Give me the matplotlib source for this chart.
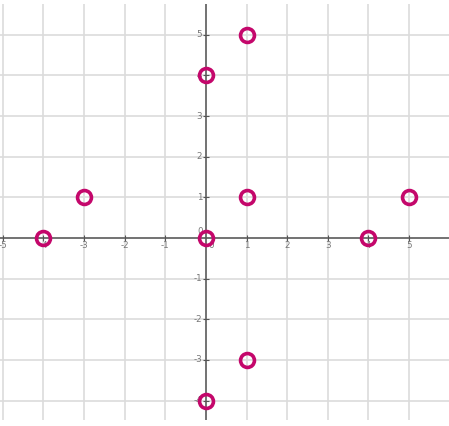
import matplotlib
matplotlib.use("Agg")
import matplotlib.pyplot as plt

# points on the plane
pts_x = [-4, -3, 0, 0, 1, 1, 1, 0, 4, 5]
pts_y = [0, 1, 4, 0, 5, 1, -3, -4, 0, 1]

x_ticks = [-5, -4, -3, -2, -1, 1, 2, 3, 4, 5]
y_ticks = [-4, -3, -2, -1, 1, 2, 3, 4, 5]

GRID = "#dcdcdc"
AXIS = "#555555"
LABEL = "#777777"
MARK = "#c4076b"

W, H = 449, 426
fig = plt.figure(figsize=(W / 100, H / 100), dpi=100)
ax = fig.add_axes([0, 6 / H, 1, 416 / H])
ax.set_xlim(-5.07, 5.985)
ax.set_ylim(-4.48, 5.76)
ax.axis("off")

# grid
for gx in x_ticks + [0]:
    ax.axvline(gx, color=GRID, lw=1.2, zorder=0)
for gy in y_ticks + [0]:
    ax.axhline(gy, color=GRID, lw=1.2, zorder=0)

# axes
ax.axhline(0, color=AXIS, lw=1.1, zorder=1)
ax.axvline(0, color=AXIS, lw=1.1, zorder=1)

# tick marks and labels
ax.plot(x_ticks, [0] * len(x_ticks), ls="none", marker="|", ms=4, mew=0.8, color=AXIS, zorder=1)
ax.plot([0] * len(y_ticks), y_ticks, ls="none", marker="_", ms=4, mew=0.8, color=AXIS, zorder=1)
for t in x_ticks:
    ax.text(t, -0.07, str(t).replace("-", "\u2010"), ha="center", va="top", fontsize=6.3, color=LABEL)
for t in y_ticks:
    ax.text(-0.09, t, str(t).replace("-", "\u2010"), ha="right", va="center", fontsize=6.3, color=LABEL)
ax.text(0.07, -0.07, "0", ha="left", va="top", fontsize=6.3, color=LABEL)
ax.text(-0.07, 0.05, "0", ha="right", va="bottom", fontsize=6.3, color=LABEL)

# points
ax.plot(pts_x, pts_y, ls="none", marker="o", ms=10, mew=2.6,
        mfc="none", mec=MARK, zorder=3)

fig.savefig("out.png", dpi=100)
